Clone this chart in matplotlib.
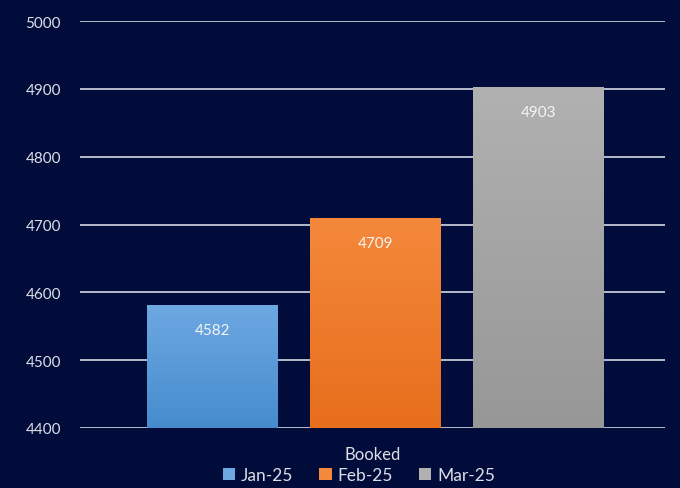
import numpy as np
import matplotlib.pyplot as plt
from matplotlib.colors import LinearSegmentedColormap

# chart data
category = "Booked"
months = ["Jan-25", "Feb-25", "Mar-25"]
booked = [4582, 4709, 4903]
y_ticks = [4400, 4500, 4600, 4700, 4800, 4900, 5000]

bg = "#010c3a"
text_col = "#dcdfe8"
# (top, bottom) gradient colours per bar
gradients = [("#6da8e2", "#468ccd"), ("#f4883b", "#e76e1c"), ("#b1b1b1", "#979797")]

plt.rcParams['font.family'] = ['Lato', 'DejaVu Sans']

fig = plt.figure(figsize=(6.8, 4.89), dpi=100, facecolor=bg)
ax = fig.add_axes([0.118, 0.1227, 0.86, 0.8323], facecolor=bg)

ax.set_ylim(4400, 5000)
ax.set_xlim(-0.5, 0.5)
ax.set_yticks(y_ticks)
ax.yaxis.grid(True, color="#e6e9f2", linewidth=1.1)
ax.set_axisbelow(True)
for s in ax.spines.values():
    s.set_visible(False)
ax.tick_params(axis='y', length=0, pad=14, labelsize=11, labelcolor=text_col)
ax.set_xticks([])

width = 0.224
offsets = [-0.274, 0.005, 0.284]
handles = []
for i, (m, v) in enumerate(zip(months, booked)):
    top, bottom = gradients[i]
    bar = ax.bar(offsets[i], v - 4400, bottom=4400, width=width,
                 color=top, label=m, zorder=2)[0]
    cmap = LinearSegmentedColormap.from_list(f"g{i}", [bottom, top])
    x0 = offsets[i] - width / 2
    img = ax.imshow(np.linspace(0, 1, 256).reshape(-1, 1), cmap=cmap,
                    extent=[x0, x0 + width, 4400, v], origin='lower',
                    aspect='auto', zorder=2.5)
    img.set_clip_path(bar)
    handles.append(bar)
    ax.annotate(str(v), (offsets[i], v), xytext=(0, -18), textcoords='offset points',
                ha='center', va='center', color="#f5f5f5", fontsize=11, zorder=4)

ax.set_xlim(-0.5, 0.5)
ax.set_ylim(4400, 5000)

fig.text(0.548, 0.069, category, ha='center', va='center', color=text_col, fontsize=12)
fig.legend(handles=handles, labels=months, loc='center', bbox_to_anchor=(0.528, 0.026),
           ncol=3, frameon=False, fontsize=12.5, labelcolor=text_col,
           handlelength=0.7, handleheight=0.7, handletextpad=0.35, columnspacing=1.5)

fig.savefig("out.png", dpi=100, facecolor=bg)
